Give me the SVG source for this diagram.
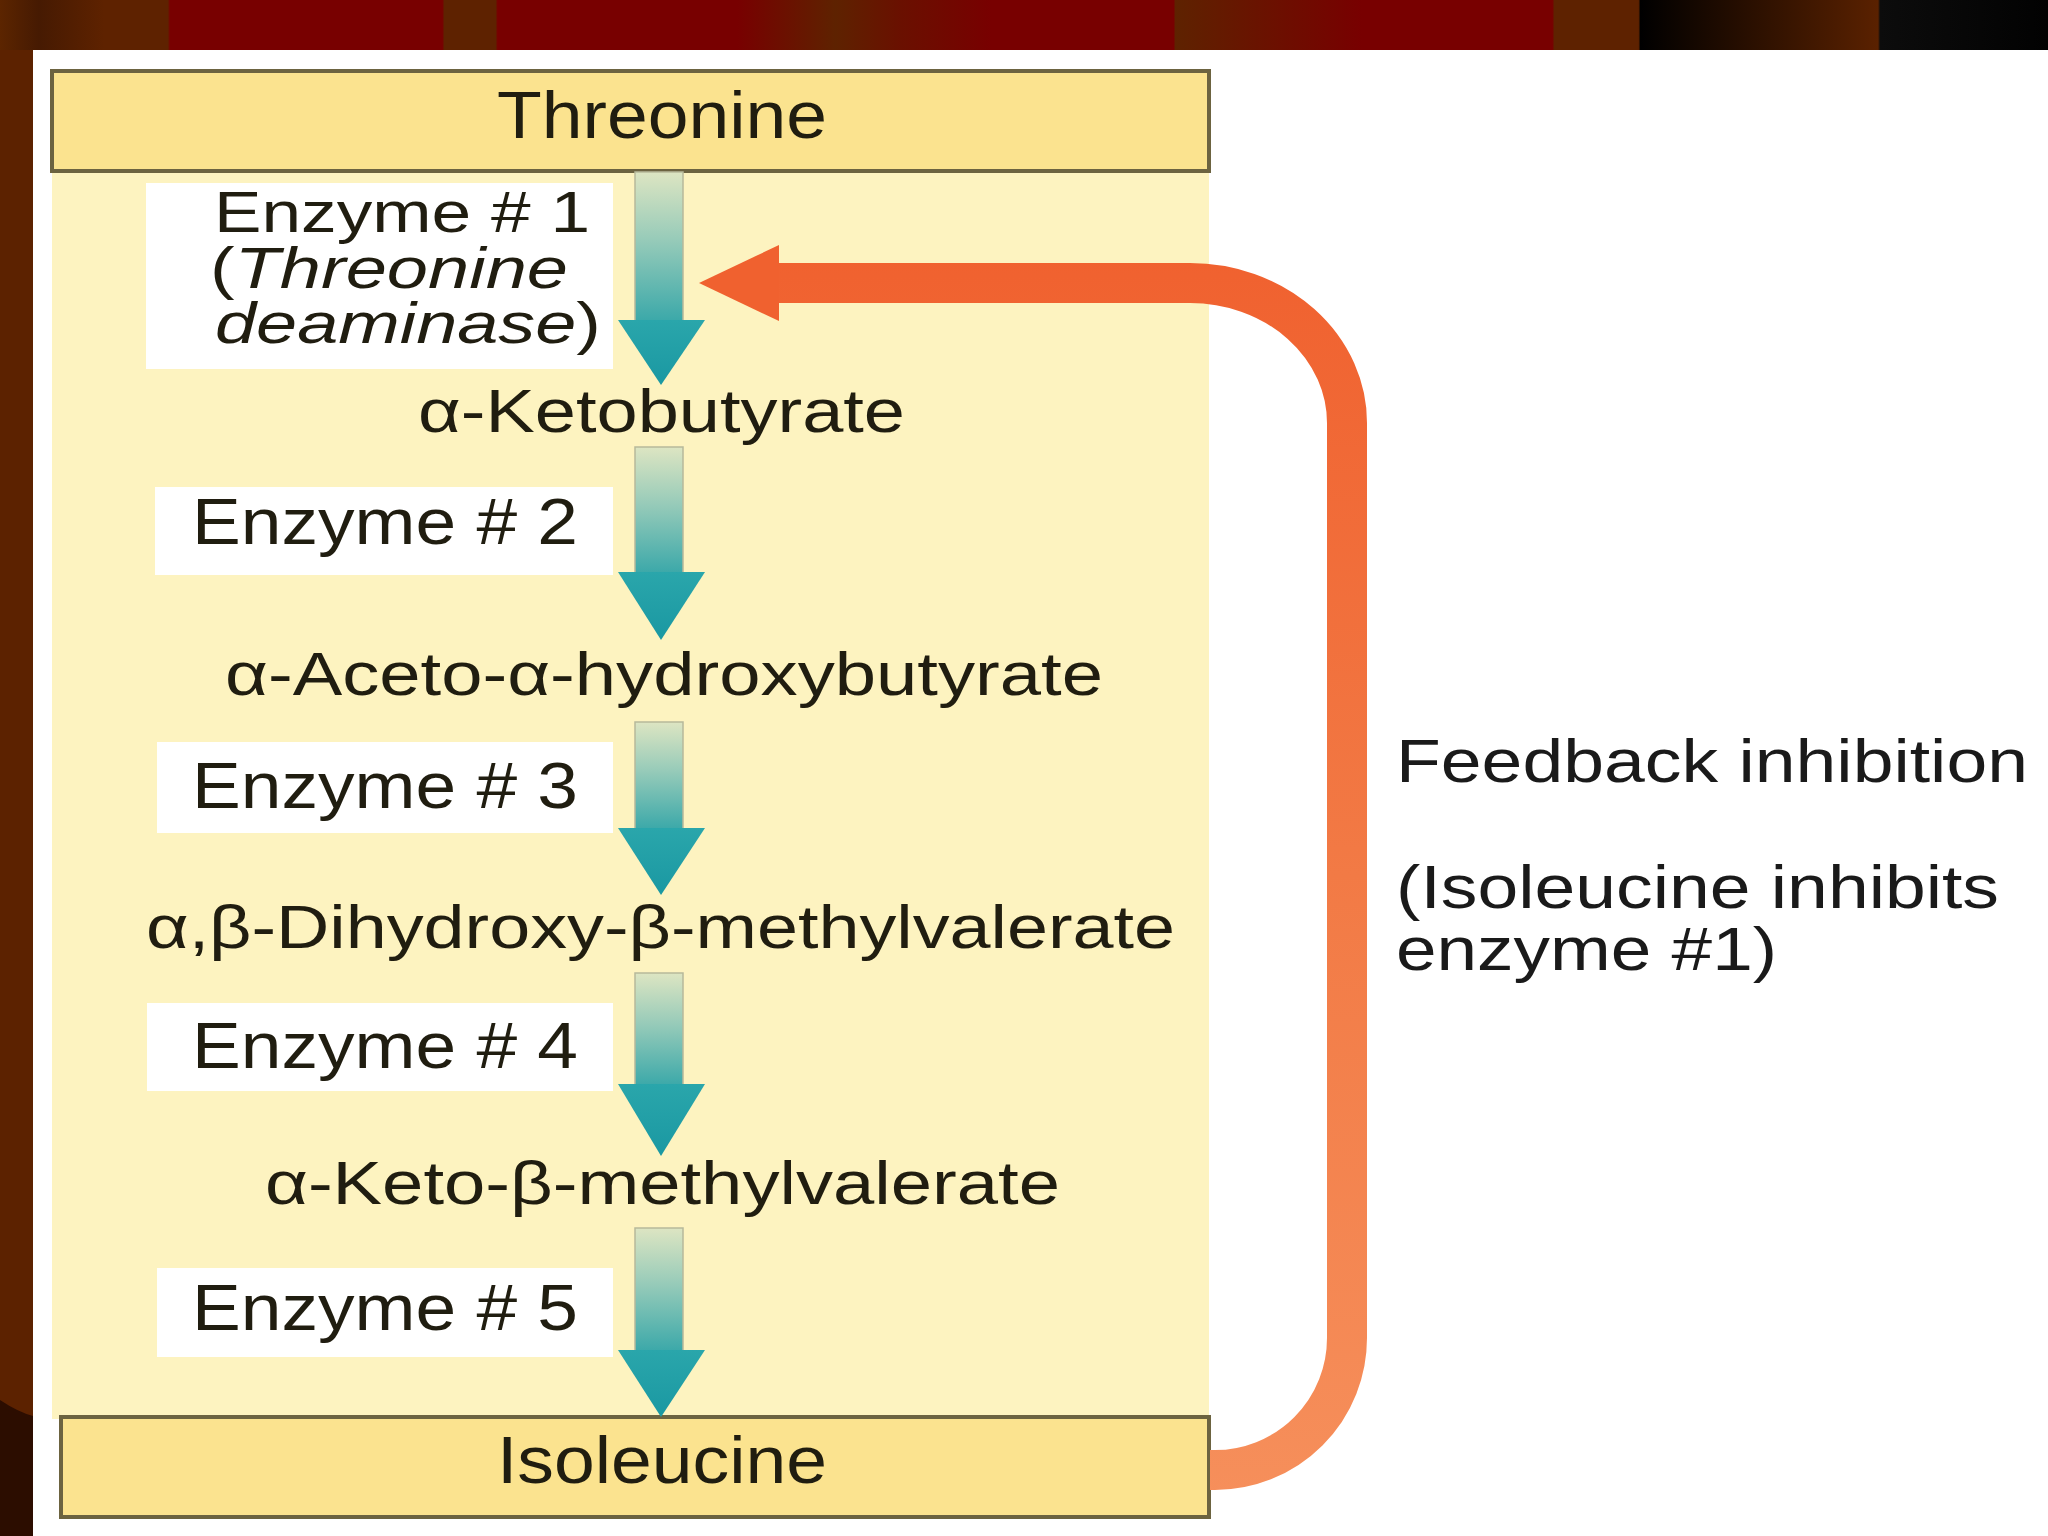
<svg xmlns="http://www.w3.org/2000/svg" width="2048" height="1536" viewBox="0 0 2048 1536">
<defs>
<linearGradient id="band" x1="0" y1="0" x2="2048" y2="0" gradientUnits="userSpaceOnUse">
<stop offset="0" stop-color="#5c2500"/>
<stop offset="0.019" stop-color="#461a02"/>
<stop offset="0.051" stop-color="#5e2200"/>
<stop offset="0.082" stop-color="#5e2200"/>
<stop offset="0.083" stop-color="#780000"/>
<stop offset="0.216" stop-color="#780000"/>
<stop offset="0.217" stop-color="#5e2200"/>
<stop offset="0.242" stop-color="#5e2200"/>
<stop offset="0.243" stop-color="#780000"/>
<stop offset="0.36" stop-color="#780000"/>
<stop offset="0.408" stop-color="#5e2200"/>
<stop offset="0.44" stop-color="#6a1000"/>
<stop offset="0.484" stop-color="#780000"/>
<stop offset="0.573" stop-color="#780000"/>
<stop offset="0.574" stop-color="#5e2200"/>
<stop offset="0.665" stop-color="#780000"/>
<stop offset="0.758" stop-color="#780000"/>
<stop offset="0.759" stop-color="#5e2200"/>
<stop offset="0.8" stop-color="#5e2200"/>
<stop offset="0.801" stop-color="#000000"/>
<stop offset="0.917" stop-color="#5a2100"/>
<stop offset="0.918" stop-color="#0c0c0c"/>
<stop offset="1" stop-color="#020202"/>
</linearGradient>
<linearGradient id="shaft" x1="0" y1="0" x2="0" y2="1">
<stop offset="0" stop-color="#dde5c2"/>
<stop offset="0.45" stop-color="#97cbb9"/>
<stop offset="1" stop-color="#3aa8a9"/>
</linearGradient>
<linearGradient id="head" x1="0" y1="0" x2="0" y2="1">
<stop offset="0" stop-color="#2aa6ab"/>
<stop offset="1" stop-color="#1a98a2"/>
</linearGradient>
<linearGradient id="orange" x1="0" y1="250" x2="0" y2="1500" gradientUnits="userSpaceOnUse">
<stop offset="0" stop-color="#f0612f"/>
<stop offset="0.5" stop-color="#f27a45"/>
<stop offset="1" stop-color="#f68f5b"/>
</linearGradient>
<style>
.t{font-family:"Liberation Sans",Arial,Helvetica,sans-serif;fill:#201d10}
.big{font-size:66px}
.mid{font-size:62px}
.en{font-size:64px}
.e1{font-size:58px}
.fb{font-size:61px;fill:#1a1a1a}
.box{fill:#fbe38f;stroke:#6c6340;stroke-width:4}
.lbl{fill:#ffffff}
.shaft{fill:url(#shaft);stroke:#b7b99a;stroke-width:1.5}
.head{fill:url(#head)}
</style>
</defs>

<g id="background">
<rect x="0" y="0" width="2048" height="1536" fill="#ffffff"/>
<rect x="0" y="0" width="2048" height="50" fill="url(#band)"/>
<rect x="0" y="50" width="33" height="1486" fill="#5c2200"/>
<path d="M0 1400 Q18 1412 33 1416 L33 1536 L0 1536 Z" fill="#2c0d00"/>
<rect x="52" y="171" width="1157" height="1248" fill="#fdf3c0"/>
</g>

<g id="threonine">
<rect class="box" x="52" y="71" width="1157" height="100"/>
<text class="t big" x="662" y="138" text-anchor="middle" textLength="330" lengthAdjust="spacingAndGlyphs">Threonine</text>
</g>

<g id="enzyme1">
<rect class="lbl" x="146" y="183" width="467" height="186"/>
<text class="t e1" x="214" y="232" textLength="376" lengthAdjust="spacingAndGlyphs">Enzyme # 1</text>
<text class="t e1" x="210" y="288" textLength="358" lengthAdjust="spacingAndGlyphs">(<tspan font-style="italic">Threonine</tspan></text>
<text class="t e1" x="215" y="343" textLength="386" lengthAdjust="spacingAndGlyphs"><tspan font-style="italic">deaminase</tspan>)</text>
</g>

<g id="ketobutyrate">
<text class="t mid" x="418" y="432" textLength="487" lengthAdjust="spacingAndGlyphs">α-Ketobutyrate</text>
</g>

<g id="enzyme2">
<rect class="lbl" x="155" y="487" width="458" height="88"/>
<text class="t en" x="192" y="544" textLength="386" lengthAdjust="spacingAndGlyphs">Enzyme # 2</text>
</g>

<g id="acetohydroxybutyrate">
<text class="t mid" x="225" y="695" textLength="878" lengthAdjust="spacingAndGlyphs">α-Aceto-α-hydroxybutyrate</text>
</g>

<g id="enzyme3">
<rect class="lbl" x="157" y="742" width="456" height="91"/>
<text class="t en" x="192" y="808" textLength="386" lengthAdjust="spacingAndGlyphs">Enzyme # 3</text>
</g>

<g id="dihydroxymethylvalerate">
<text class="t mid" x="146" y="948" textLength="1029" lengthAdjust="spacingAndGlyphs">α,β-Dihydroxy-β-methylvalerate</text>
</g>

<g id="enzyme4">
<rect class="lbl" x="147" y="1003" width="466" height="88"/>
<text class="t en" x="192" y="1068" textLength="386" lengthAdjust="spacingAndGlyphs">Enzyme # 4</text>
</g>

<g id="ketomethylvalerate">
<text class="t mid" x="265" y="1204" textLength="795" lengthAdjust="spacingAndGlyphs">α-Keto-β-methylvalerate</text>
</g>

<g id="enzyme5">
<rect class="lbl" x="157" y="1268" width="456" height="89"/>
<text class="t en" x="192" y="1330" textLength="386" lengthAdjust="spacingAndGlyphs">Enzyme # 5</text>
</g>

<g id="isoleucine">
<rect class="box" x="61" y="1417" width="1148" height="100"/>
<text class="t big" x="662" y="1483" text-anchor="middle" textLength="330" lengthAdjust="spacingAndGlyphs">Isoleucine</text>
</g>

<g id="feedback-label">
<text class="t fb" x="1396" y="782" textLength="632" lengthAdjust="spacingAndGlyphs">Feedback inhibition</text>
<text class="t fb" x="1396" y="908" textLength="603" lengthAdjust="spacingAndGlyphs">(Isoleucine inhibits</text>
<text class="t fb" x="1396" y="970" textLength="381" lengthAdjust="spacingAndGlyphs">enzyme #1)</text>
</g>

<g id="connectors">
<g id="step1">
<rect class="shaft" x="635" y="172" width="48" height="150"/>
<polygon class="head" points="618,320 705,320 661,385"/>
</g>
<g id="step2">
<rect class="shaft" x="635" y="447" width="48" height="127"/>
<polygon class="head" points="618,572 705,572 661,640"/>
</g>
<g id="step3">
<rect class="shaft" x="635" y="722" width="48" height="108"/>
<polygon class="head" points="618,828 705,828 661,895"/>
</g>
<g id="step4">
<rect class="shaft" x="635" y="973" width="48" height="113"/>
<polygon class="head" points="618,1084 705,1084 661,1156"/>
</g>
<g id="step5">
<rect class="shaft" x="635" y="1228" width="48" height="124"/>
<polygon class="head" points="618,1350 705,1350 661,1417"/>
</g>
<g id="feedback">
<path d="M1210 1470 L1215 1470 A132 132 0 0 0 1347 1338 L1347 423 A157 140 0 0 0 1190 283 L775 283" fill="none" stroke="url(#orange)" stroke-width="40"/>
<polygon points="699,283 779,245 779,321" fill="#f0612f"/>
</g>
</g>
</svg>
